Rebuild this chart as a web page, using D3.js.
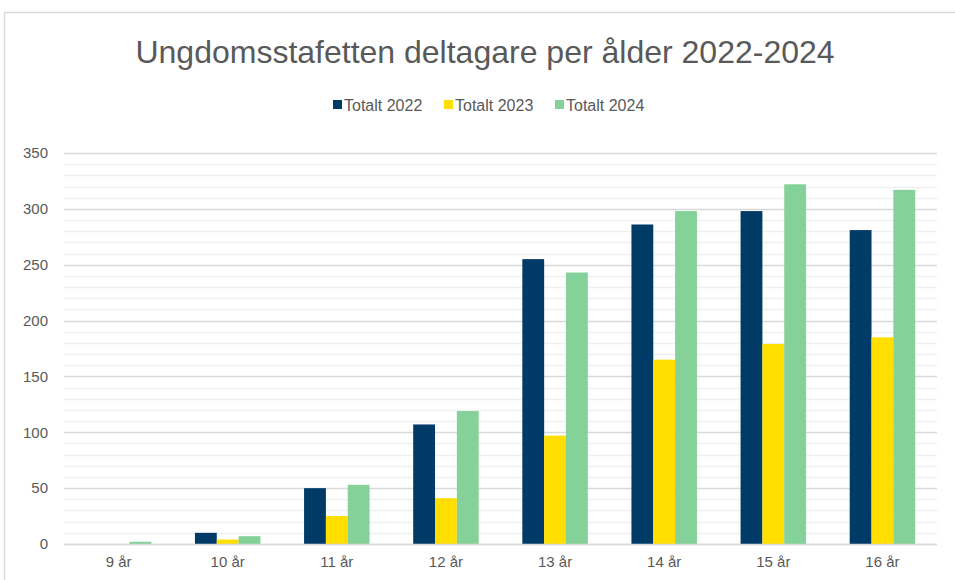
<!DOCTYPE html>
<html>
<head>
<meta charset="utf-8">
<script src="https://cdn.jsdelivr.net/npm/d3@7"></script>
<style>
  body { margin: 0; background: #fff; }
  svg text { font-family: "Liberation Sans", Arial, sans-serif; fill: #595959; }
</style>
</head>
<body>
<svg id="chart" width="955" height="580"></svg>
<script>
const ages = ["9 år", "10 år", "11 år", "12 år", "13 år", "14 år", "15 år", "16 år"];
const seriesNames = ["Totalt 2022", "Totalt 2023", "Totalt 2024"];
const totalt2022 = [0, 10, 50, 107, 255, 286, 298, 281];
const totalt2023 = [0, 4, 25, 41, 97, 165, 179, 185];
const totalt2024 = [2, 7, 53, 119, 243, 298, 322, 317];
const yTicks = [0, 50, 100, 150, 200, 250, 300, 350];

const colours = ["#003A66", "#FFDE00", "#84D199"];
const seriesValues = [totalt2022, totalt2023, totalt2024];

const svg = d3.select("#chart");
const margin = {left: 64, right: 18, top: 153, bottom: 36};
const width = +svg.attr("width"), height = +svg.attr("height");

// outer chart border
svg.append("rect")
    .attr("x", 4.5).attr("y", 12.5)
    .attr("width", 970).attr("height", 600)
    .attr("fill", "#fff")
    .attr("stroke", "#d9d9d9")
    .attr("stroke-width", 1.5);

const x = d3.scaleBand()
    .domain(ages)
    .range([margin.left, width - margin.right])
    .paddingInner(0.4)
    .paddingOuter(0.2);

const xInner = d3.scaleBand()
    .domain(seriesNames)
    .range([0, x.bandwidth()]);

const y = d3.scaleLinear()
    .domain([0, 350])
    .range([height - margin.bottom, margin.top]);

// minor gridlines
svg.append("g")
    .selectAll("line")
    .data(d3.range(10, 350, 10).filter(v => v % 50 !== 0))
    .join("line")
    .attr("x1", margin.left).attr("x2", width - margin.right)
    .attr("y1", d => Math.round(y(d)) + 0.5).attr("y2", d => Math.round(y(d)) + 0.5)
    .attr("stroke", "#f0f0f0")
    .attr("stroke-width", 1.5);

// major gridlines
svg.append("g")
    .selectAll("line")
    .data(yTicks)
    .join("line")
    .attr("x1", margin.left).attr("x2", width - margin.right)
    .attr("y1", d => Math.round(y(d)) + 0.5).attr("y2", d => Math.round(y(d)) + 0.5)
    .attr("stroke", "#d9d9d9")
    .attr("stroke-width", 1.5);

// y tick labels
const yAxis = svg.append("g")
    .attr("transform", `translate(${margin.left},0)`)
    .call(d3.axisLeft(y).tickValues(yTicks).tickSize(0).tickPadding(16));
yAxis.select(".domain").remove();
yAxis.selectAll("text")
    .attr("font-size", 15)
    .attr("font-family", "Liberation Sans, Arial, sans-serif")
    .attr("fill", "#595959");

// x tick labels
const xAxis = svg.append("g")
    .attr("transform", `translate(0,${height - margin.bottom})`)
    .call(d3.axisBottom(x).tickSize(0).tickPadding(12));
xAxis.select(".domain").remove();
xAxis.selectAll("text")
    .attr("font-size", 15)
    .attr("font-family", "Liberation Sans, Arial, sans-serif")
    .attr("fill", "#595959");

// bars
seriesNames.forEach((name, i) => {
    svg.append("g")
        .attr("fill", colours[i])
        .selectAll("rect")
        .data(seriesValues[i])
        .join("rect")
        .attr("x", (d, j) => x(ages[j]) + xInner(name))
        .attr("width", xInner.bandwidth())
        .attr("y", d => y(d))
        .attr("height", d => y(0) - y(d));
});

// baseline
svg.append("line")
    .attr("x1", margin.left).attr("x2", width - margin.right)
    .attr("y1", Math.round(y(0)) + 0.5).attr("y2", Math.round(y(0)) + 0.5)
    .attr("stroke", "#d9d9d9")
    .attr("stroke-width", 1.5);

// title
svg.append("text")
    .attr("x", 485).attr("y", 63)
    .attr("text-anchor", "middle")
    .attr("font-size", 32)
    .text("Ungdomsstafetten deltagare per ålder 2022-2024");

// legend
const legendX = [333, 444, 555];
const legend = svg.append("g");
seriesNames.forEach((name, i) => {
    legend.append("rect")
        .attr("x", legendX[i]).attr("y", 100)
        .attr("width", 9).attr("height", 9)
        .attr("fill", colours[i]);
    legend.append("text")
        .attr("x", legendX[i] + 11).attr("y", 111)
        .attr("font-size", 16)
        .text(name);
});
</script>
</body>
</html>
